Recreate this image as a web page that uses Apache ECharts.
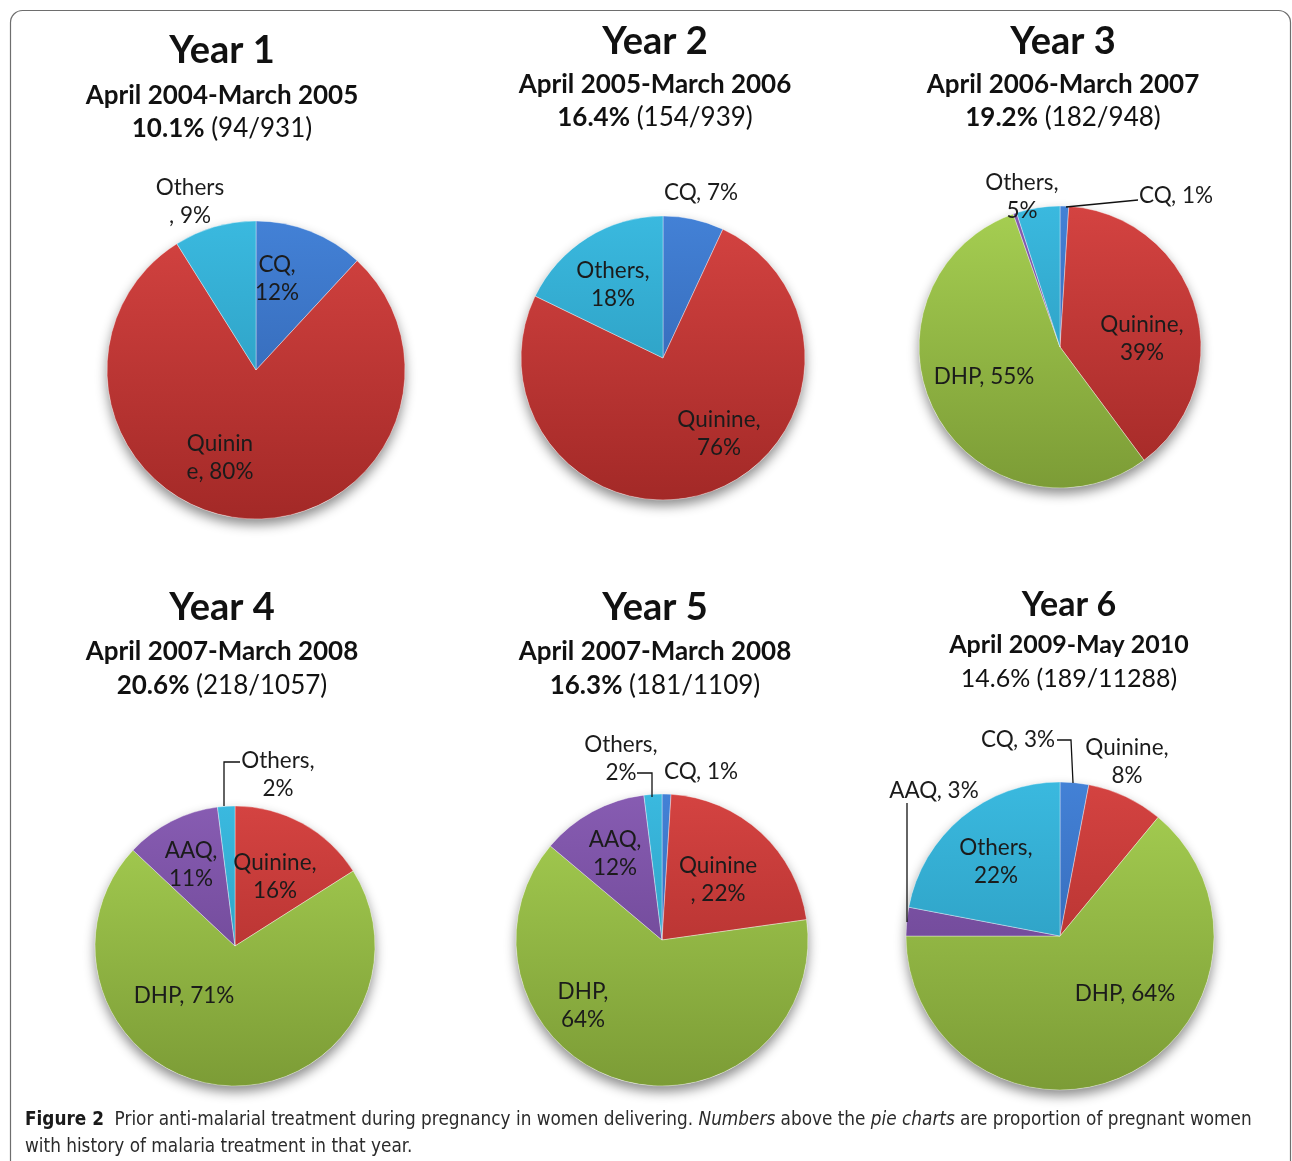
<!DOCTYPE html>
<html>
<head>
<meta charset="utf-8">
<script src="https://cdn.jsdelivr.net/npm/echarts@6/dist/echarts.min.js"></script>
<style>
  html, body { margin: 0; padding: 0; background: #fff; }
  #chart { width: 1292px; height: 1161px; }
</style>
</head>
<body>
<div id="chart"></div>
<script>
// ---- Data ----------------------------------------------------------------
const yearTitles = ['Year 1', 'Year 2', 'Year 3', 'Year 4', 'Year 5', 'Year 6'];
const periods = [
  'April 2004-March 2005', 'April 2005-March 2006', 'April 2006-March 2007',
  'April 2007-March 2008', 'April 2007-March 2008', 'April 2009-May 2010'
];
const ratePct = ['10.1%', '16.4%', '19.2%', '20.6%', '16.3%', '14.6%'];
const rateCounts = ['(94/931)', '(154/939)', '(182/948)', '(218/1057)', '(181/1109)', '(189/11288)'];

const drugs = ['CQ', 'Quinine', 'DHP', 'AAQ', 'Others'];
// Share of prior treatment by drug (%), in the order of `drugs`; null = none that year
const year1Share = [12, 80, null, null, 9];
const year2Share = [7, 76, null, null, 18];
const year3Share = [1, 39, 55, 0.4, 5];
const year4Share = [null, 16, 71, 11, 2];
const year5Share = [1, 22, 64, 12, 2];
const year6Share = [3, 8, 64, 3, 22];
const shares = [year1Share, year2Share, year3Share, year4Share, year5Share, year6Share];

const captionLead = 'Figure 2';
const captionBody = 'Prior anti-malarial treatment during pregnancy in women delivering.';

// ---- Layout & style ------------------------------------------------------
const FONT = 'Lato, "Noto Sans", sans-serif';
const pieCenters = [[256, 370], [663, 358], [1060, 347], [235, 946], [662, 940], [1060, 936]];
const pieRadii = [149, 142, 141, 140, 146, 154];
const headX = [222, 655, 1063, 222, 655, 1069];
const headY = [[51, 96, 129], [42, 85, 118], [42, 85, 118], [608, 652, 686], [608, 652, 686], [605, 645, 679]];
const headSize = [38, 38, 38, 38, 38, 34];
const subSize = [26, 26, 26, 26, 26, 25];
const rateBold = [true, true, true, true, true, false];

// slice colours: [top, bottom] of a vertical gradient across each pie
const drugColors = {
  CQ: ['#4381d6', '#2d5ca6'],
  Quinine: ['#d44341', '#a32927'],
  DHP: ['#a6cf52', '#7c9c36'],
  AAQ: ['#875cb2', '#623d88'],
  Others: ['#3ab9df', '#2690b2']
};

// label placement relative to each pie centre; brk = where the text wraps
const labelPlace = [
  { CQ: [21, -91, 3], Quinine: [-36, 88, 6], Others: [-66, -168, 6] },
  { CQ: [38, -165], Quinine: [56, 76, 8], Others: [-50, -73, 7] },
  { CQ: [116, -151], Quinine: [82, -8, 8], DHP: [-76, 30], Others: [-38, -150, 7] },
  { Quinine: [40, -69, 8], DHP: [-51, 50], AAQ: [-44, -81, 4], Others: [43, -171, 7] },
  { CQ: [39, -168], Quinine: [56, -60, 7], DHP: [-79, 66, 4], AAQ: [-47, -86, 4], Others: [-41, -181, 7] },
  { CQ: [-42, -196], Quinine: [67, -174, 8], DHP: [65, 58], AAQ: [-126, -145], Others: [-64, -74, 7] }
];
// leader lines (relative to pie centre)
const leaders = [
  [],
  [],
  [[[6, -140], [78, -147]]],
  [[[-11, -140], [-11, -184], [5, -184]]],
  [[[-25, -167], [-10, -167], [-10, -143]]],
  [[[-3, -196], [11, -196], [13, -153]], [[-153, -133], [-153, -14]]]
];

function labelText(yi, name, value) {
  const full = name + ', ' + value + '%';
  const p = labelPlace[yi][name];
  if (!p || p[2] == null) return full;
  return full.slice(0, p[2]).trimEnd() + '\n' + full.slice(p[2]).trimStart();
}

function gradient(cy, r, pair) {
  return {
    type: 'linear', x: 0, y: cy - r, x2: 0, y2: cy + r, global: true,
    colorStops: [{ offset: 0, color: pair[0] }, { offset: 1, color: pair[1] }]
  };
}

const series = [];
const graphics = [];

// frame around the figure
graphics.push({
  type: 'rect', z: 0,
  shape: { x: 10.5, y: 10.5, width: 1280, height: 1180, r: 12 },
  style: { fill: 'none', stroke: '#6e6e6e', lineWidth: 1.2 }
});

shares.forEach((vals, yi) => {
  const [cx, cy] = pieCenters[yi];
  const r = pieRadii[yi];
  const data = [];
  vals.forEach((v, di) => {
    if (v == null) return;
    const name = drugs[di];
    const item = {
      name: name,
      value: v,
      itemStyle: { color: gradient(cy, r, drugColors[name]) }
    };
    if (!labelPlace[yi][name]) item.label = { show: false };
    data.push(item);
  });
  const total = data.reduce((s, d) => s + d.value, 0);

  // soft drop shadow beneath the pie
  series.push({
    type: 'pie', silent: true, z: 1,
    center: [cx, cy], radius: [0, r],
    label: { show: false }, labelLine: { show: false },
    itemStyle: { color: '#ffffff', shadowBlur: 12, shadowOffsetY: 6, shadowColor: 'rgba(0,0,0,0.45)' },
    data: [{ value: total, name: 'all' }]
  });

  series.push({
    type: 'pie', z: 2,
    center: [cx, cy], radius: [0, r],
    startAngle: 90, clockwise: true,
    avoidLabelOverlap: false,
    minAngle: 0,
    itemStyle: { borderColor: 'rgba(255,255,255,0.45)', borderWidth: 0.8 },
    emphasis: { disabled: true },
    label: {
      show: true, position: 'inside',
      color: '#1b1b1b', fontFamily: FONT, fontSize: 22.5, lineHeight: 28,
      formatter: p => labelText(yi, p.name, p.value)
    },
    labelLine: { show: false },
    labelLayout: params => {
      const name = data[params.dataIndex].name;
      const p = labelPlace[yi][name];
      if (!p) return {};
      return { x: cx + p[0], y: cy + p[1], align: 'center', verticalAlign: 'middle' };
    },
    data: data
  });

  leaders[yi].forEach(pts => {
    graphics.push({
      type: 'polyline', z: 10,
      shape: { points: pts.map(q => [cx + q[0], cy + q[1]]) },
      style: { stroke: '#111', lineWidth: 1.3, fill: 'none' }
    });
  });

  // headings
  const hx = headX[yi];
  const hy = headY[yi];
  const fs = subSize[yi];
  graphics.push({
    type: 'text', z: 10,
    style: { text: yearTitles[yi], x: hx, y: hy[0], align: 'center', verticalAlign: 'middle',
      font: 'bold ' + headSize[yi] + 'px ' + FONT, fill: '#111' }
  });
  graphics.push({
    type: 'text', z: 10,
    style: { text: periods[yi], x: hx, y: hy[1], align: 'center', verticalAlign: 'middle',
      font: 'bold ' + fs + 'px ' + FONT, fill: '#111' }
  });
  graphics.push({
    type: 'text', z: 10,
    style: {
      text: '{a|' + ratePct[yi] + '}{b| ' + rateCounts[yi] + '}',
      x: hx, y: hy[2], align: 'center', verticalAlign: 'middle',
      rich: {
        a: { fontFamily: FONT, fontSize: fs, fontWeight: rateBold[yi] ? 'bold' : 'normal', fill: '#111' },
        b: { fontFamily: FONT, fontSize: fs, fontWeight: 'normal', fill: '#111' }
      }
    }
  });
});

// caption
const CAP = '"Liberation Sans Narrow", "DejaVu Sans Condensed", Lato, sans-serif';
graphics.push({
  type: 'text', z: 10,
  style: {
    text: '{h|' + captionLead + '}  ' + captionBody + ' {i|Numbers} above the {i|pie charts} are proportion of pregnant women\nwith history of malaria treatment in that year.',
    x: 25, y: 1107, align: 'left', verticalAlign: 'top',
    fontFamily: CAP, fontSize: 18.8, lineHeight: 27, fill: '#2b2b2b',
    rich: {
      h: { fontFamily: CAP, fontSize: 18.8, fontWeight: 'bold', fill: '#1a1a1a' },
      i: { fontFamily: CAP, fontSize: 18.8, fontStyle: 'italic', fill: '#2b2b2b' }
    }
  }
});

const chart = echarts.init(document.getElementById('chart'), null, { renderer: 'canvas' });
chart.setOption({
  backgroundColor: '#ffffff',
  animation: false,
  series: series,
  graphic: graphics
});
</script>
</body>
</html>
